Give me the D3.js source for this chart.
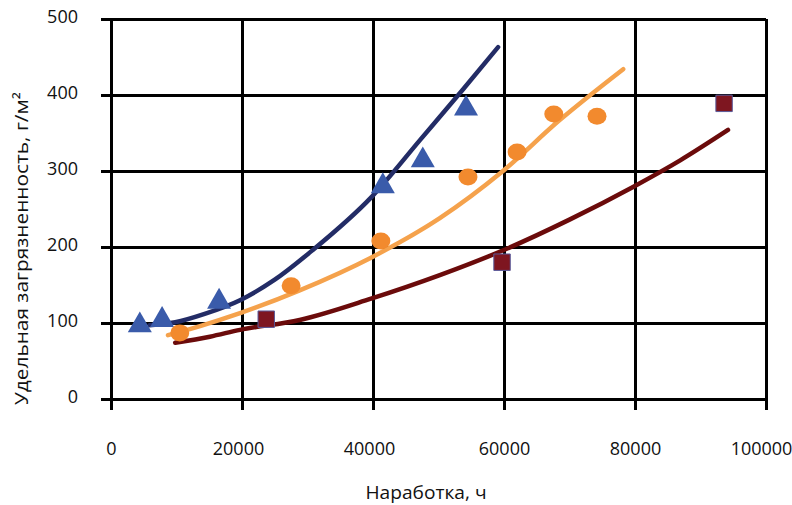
<!DOCTYPE html>
<html>
<head>
<meta charset="utf-8">
<script src="https://cdn.jsdelivr.net/npm/d3@7"></script>
<style>
  body { margin: 0; background: #fff; }
  text { font-family: "Open Sans", "Noto Sans", sans-serif; fill: #111; }
</style>
</head>
<body>
<svg id="chart" width="792" height="505"></svg>
<script>
// Tick values for both axes.
const xTicks = [0, 20000, 40000, 60000, 80000, 100000];
const yTicks = [0, 100, 200, 300, 400, 500];

// Triangle series (measured points) and its trend line.
const triX = [4400, 7800, 16500, 41500, 47600, 54200];
const triY = [97, 104, 128, 280, 314, 382];
const triLineX = [5900, 9800, 14300, 19700, 25000, 30800, 39800, 47200, 53700, 59100];
const triLineY = [97, 101, 112, 130, 157, 196, 266, 341, 407, 463];

// Circle series and its trend line.
const cirX = [10500, 27500, 41200, 54500, 62000, 67600, 74200];
const cirY = [87, 149, 208, 292, 325, 375, 372];
const cirLineX = [8700, 13600, 19700, 28800, 39700, 50200, 59700, 68500, 78200];
const cirLineY = [84, 96, 113, 143, 186, 238, 299, 367, 434];

// Square series and its trend line.
const sqX = [23700, 59700, 93600];
const sqY = [105, 180, 389];
const sqLineX = [9800, 15100, 19700, 28800, 39700, 50200, 59700, 70000, 79700, 86900, 94200];
const sqLineY = [74, 82, 91, 104, 132, 163, 195, 236, 279, 314, 354];

const svg = d3.select("#chart");
const mLeft = 111, mRight = 766, mTop = 19, mBottom = 399;

const x = d3.scaleLinear().domain([0, 100000]).range([mLeft, mRight]);
const y = d3.scaleLinear().domain([0, 500]).range([mBottom, mTop]);

// Horizontal grid with y axis labels.
const gy = svg.append("g")
  .attr("transform", `translate(${mLeft},0)`)
  .call(d3.axisLeft(y).tickValues(yTicks).tickSize(-(mRight - mLeft)).tickSizeOuter(0).tickFormat(d3.format("d")));
gy.select(".domain").remove();
gy.selectAll(".tick line").attr("x1", -10).attr("stroke", "#000").attr("stroke-width", 3);
gy.selectAll(".tick text").attr("x", -33).attr("dy", "0.2em").style("font-size", "18px");

// Vertical grid with x axis labels.
const gx = svg.append("g")
  .attr("transform", `translate(0,${mBottom})`)
  .call(d3.axisBottom(x).tickValues(xTicks).tickSize(-(mBottom - mTop)).tickSizeOuter(0).tickFormat(d3.format("d")));
gx.select(".domain").remove();
gx.selectAll(".tick line").attr("y1", 11).attr("stroke", "#000").attr("stroke-width", 3);
gx.selectAll(".tick text").attr("y", 56).attr("dy", 0).style("font-size", "18px")
  .attr("dx", d => d === 100000 ? -5 : (d === 20000 || d === 40000 ? -4 : 0));

// Trend lines.
const line = d3.line().x(d => x(d[0])).y(d => y(d[1])).curve(d3.curveMonotoneX);
function drawLine(xs, ys, color) {
  svg.append("path")
    .datum(d3.zip(xs, ys))
    .attr("d", line)
    .attr("fill", "none")
    .attr("stroke", color)
    .attr("stroke-width", 4.5)
    .attr("stroke-linecap", "round");
}
drawLine(triLineX, triLineY, "#232c66");
drawLine(cirLineX, cirLineY, "#f5a24c");
drawLine(sqLineX, sqLineY, "#6b0b0b");

// Markers.
svg.append("g").selectAll("path")
  .data(d3.zip(triX, triY))
  .join("path")
  .attr("d", d3.symbol(d3.symbolTriangle, 250))
  .attr("transform", d => `translate(${x(d[0])},${y(d[1])})`)
  .attr("fill", "#3a5baa");

svg.append("g").selectAll("ellipse")
  .data(d3.zip(cirX, cirY))
  .join("ellipse")
  .attr("cx", d => x(d[0]))
  .attr("cy", d => y(d[1]))
  .attr("rx", 9.5)
  .attr("ry", 8.5)
  .attr("fill", "#f28a2e");

svg.append("g").selectAll("path")
  .data(d3.zip(sqX, sqY))
  .join("path")
  .attr("d", d3.symbol(d3.symbolSquare, 270))
  .attr("transform", d => `translate(${x(d[0])},${y(d[1])})`)
  .attr("fill", "#7e1620")
  .attr("stroke", "#5a5a9a")
  .attr("stroke-width", 1);

// Axis titles.
svg.append("text")
  .attr("x", 426).attr("y", 499)
  .attr("text-anchor", "middle")
  .attr("textLength", 121)
  .attr("lengthAdjust", "spacingAndGlyphs")
  .style("font-size", "19px")
  .text("Наработка, ч");

svg.append("text")
  .attr("transform", "translate(28,248.5) rotate(-90)")
  .attr("text-anchor", "middle")
  .attr("textLength", 313)
  .attr("lengthAdjust", "spacingAndGlyphs")
  .style("font-size", "19px")
  .text("Удельная загрязненность, г/м²");
</script>
</body>
</html>
